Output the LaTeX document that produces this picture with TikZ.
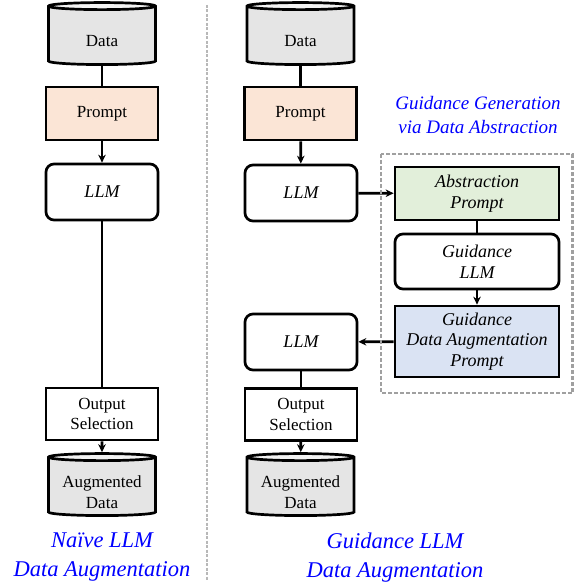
\documentclass[tikz,border=0pt]{standalone}
\usepackage{fontspec}
\setmainfont{Liberation Serif}
\usetikzlibrary{shapes.geometric, arrows.meta}

\definecolor{peach}{HTML}{FBE5D6}
\definecolor{mint}{HTML}{E2EFDA}
\definecolor{sky}{HTML}{DAE3F3}
\definecolor{frame}{HTML}{A0A0A0}

\begin{document}
\begin{tikzpicture}[>={Stealth[length=8pt, width=7.5pt]}, x=1pt, y=-1pt]
	\tikzstyle{format} = [draw, line width=2.7pt, minimum width=112pt,
	align=center, inner sep=0pt, font=\fontsize{17}{20.5}\selectfont]
	\tikzstyle{store} = [format, cylinder, shape border rotate=90, aspect=0.22,
	minimum width=107pt, minimum height=62pt, cylinder uses custom fill,
	cylinder body fill=black!10, cylinder end fill=black!5]
	\tikzstyle{inside} = [align=center, inner sep=0pt, yshift=-5pt,
	font=\fontsize{17}{20.5}\selectfont]
	\tikzstyle{model} = [format, rounded corners=8pt, minimum height=56pt]
	\tikzstyle{slanted} = [font=\fontsize{18}{20.7}\selectfont\itshape]
	\tikzstyle{link} = [draw, line width=2.7pt]
	\tikzstyle{caption} = [text=blue, align=center,
	font=\fontsize{22.5}{29}\selectfont\itshape]

	\useasboundingbox (0,0) rectangle (574,585);

	% naive pipeline
	\path[-]
		node[store, label={[inside]center:Data}] (ldata) at (102,36) {\phantom{Data}}
		node[format, fill=peach, minimum height=53pt] (lprompt) at (102,113.5) {Prompt}
		node[model, slanted] (lllm) at (102,192) {LLM}
		node[format, minimum height=52pt] (lout) at (102,414) {Output\\Selection}
		node[store, label={[inside]center:Augmented\\Data}] (laug) at (102,487) {\phantom{Data}}

		(ldata) edge[link] (lprompt)
		(lprompt) edge[link, ->] (lllm)
		(lllm) edge[link] (lout)
		(lout) edge[link, ->] (laug)
	;

	% guidance pipeline
	\path[-]
		node[store, label={[inside]center:Data}] (rdata) at (300.5,36) {\phantom{Data}}
		node[format, fill=peach, minimum height=53pt] (rprompt) at (300.5,113.5) {Prompt}
		node[model, slanted] (rllm) at (301,193) {LLM}
		node[format, slanted, fill=mint, minimum width=164pt, minimum height=53pt] (abs)
			at (477,193.5) {Abstraction\\Prompt}
		node[model, slanted, minimum width=164pt, minimum height=55pt] (gllm)
			at (477,261.5) {Guidance\\LLM}
		node[format, slanted, fill=sky, minimum width=164pt, minimum height=71pt] (gdap)
			at (477,341.5) {Guidance\\Data Augmentation\\Prompt}
		node[model, slanted] (rllm2) at (301,342) {LLM}
		node[format, minimum height=52pt] (rout) at (301,414.5) {Output\\Selection}
		node[store, label={[inside]center:Augmented\\Data}] (raug) at (300.5,487) {\phantom{Data}}

		(rdata) edge[link] (rprompt)
		(rprompt) edge[link, ->] (rllm)
		(rllm) edge[link, ->] (abs)
		(abs) edge[link] (gllm)
		(gllm) edge[link, ->] (gdap)
		(gdap) edge[link, ->] (rllm2)
		(rllm2) edge[link] (rout)
		(rout) edge[link, ->] (raug)
	;

	% frames and captions
	\draw[frame, line width=2.4pt, dash pattern=on 4pt off 2pt] (381,154) rectangle (572.5,393);
	\draw[black!28, line width=2.4pt, dash pattern=on 3pt off 1.5pt] (207,5) -- (207,580);

	\node[caption, font=\fontsize{19}{24}\selectfont\itshape] (gen) at (478,115)
		{Guidance Generation\\via Data Abstraction};
	\node[caption] (lcap) at (102,557) {Naïve LLM\\Data Augmentation};
	\node[caption] (rcap) at (395,558) {Guidance LLM\\Data Augmentation};
\end{tikzpicture}
\end{document}
